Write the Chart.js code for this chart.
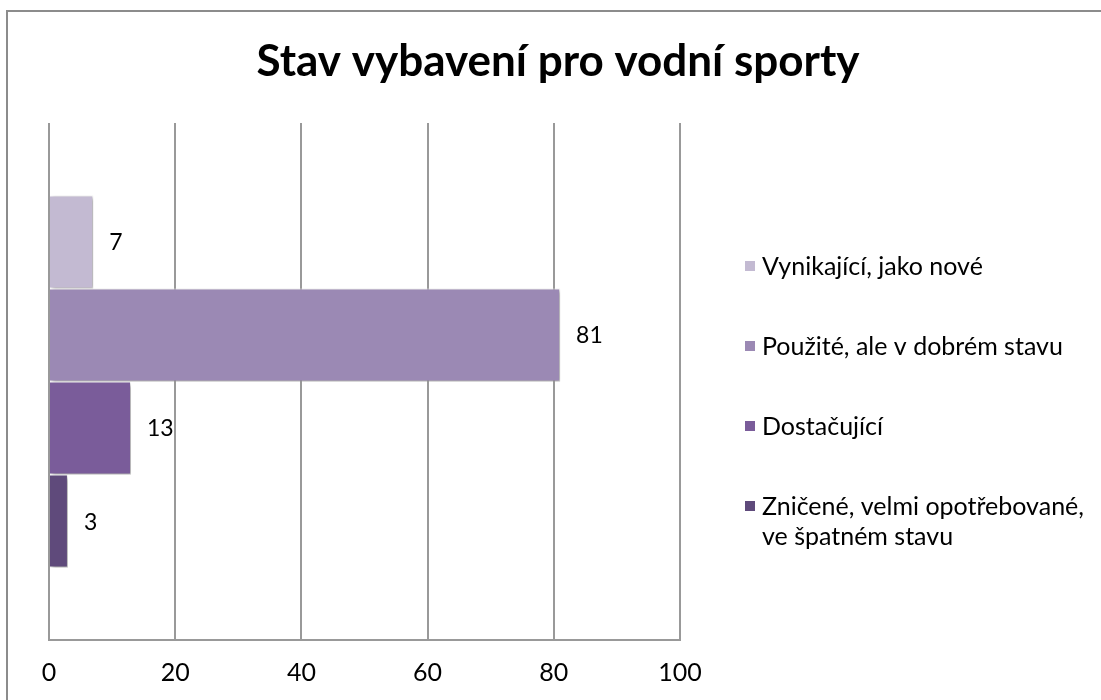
<!DOCTYPE html>
<html>
<head>
<meta charset="utf-8">
<script src="https://cdn.jsdelivr.net/npm/chart.js@4/dist/chart.umd.min.js"></script>
<style>
html,body{margin:0;padding:0;background:#fff;}
#wrap{position:relative;width:1101px;height:700px;}
</style>
</head>
<body>
<div id="wrap"><canvas id="c" width="1101" height="700"></canvas></div>
<script>
const chartTitle = 'Stav vybavení pro vodní sporty';
const categories = [''];
const seriesNames = [
  'Vynikající, jako nové',
  'Použité, ale v dobrém stavu',
  'Dostačující',
  'Zničené, velmi opotřebované, ve špatném stavu'
];
const seriesValues = [7, 81, 13, 3];
const seriesColors = ['#C3BAD2', '#9B89B4', '#7A5C9A', '#5F4A7B'];
const xTicks = [0, 20, 40, 60, 80, 100];

const FONT = 'Lato, "Open Sans", sans-serif';

const frame = {
  id: 'frame',
  beforeDraw(chart) {
    const ctx = chart.ctx;
    ctx.save();
    ctx.fillStyle = '#fff';
    ctx.fillRect(0, 0, chart.width, chart.height);
    ctx.strokeStyle = '#8c8c8c';
    ctx.lineWidth = 2;
    ctx.beginPath();
    ctx.moveTo(7, chart.height + 5);
    ctx.lineTo(7, 11);
    ctx.lineTo(chart.width + 5, 11);
    ctx.stroke();
    ctx.fillStyle = '#000';
    ctx.font = 'bold 44px ' + FONT;
    ctx.textAlign = 'center';
    ctx.textBaseline = 'alphabetic';
    ctx.fillText(chartTitle, 558, 76);
    ctx.restore();
  }
};

const shadow = {
  id: 'shadow',
  beforeDatasetsDraw(chart) {
    const ctx = chart.ctx;
    ctx.save();
    ctx.shadowColor = 'rgba(0,0,0,0.35)';
    ctx.shadowBlur = 4;
    ctx.shadowOffsetX = 2;
    ctx.shadowOffsetY = 2;
  },
  afterDatasetsDraw(chart) {
    chart.ctx.restore();
  }
};

const valueLabels = {
  id: 'valueLabels',
  afterDatasetsDraw(chart) {
    const ctx = chart.ctx;
    ctx.save();
    ctx.font = '23px ' + FONT;
    ctx.fillStyle = '#000';
    ctx.textBaseline = 'middle';
    ctx.textAlign = 'left';
    chart.data.datasets.forEach((ds, i) => {
      const meta = chart.getDatasetMeta(i);
      meta.data.forEach((el, j) => {
        ctx.fillText(String(ds.data[j]), el.x + 16, el.y + 1);
      });
    });
    ctx.restore();
  }
};

const sideLegend = {
  id: 'sideLegend',
  afterDraw(chart) {
    const ctx = chart.ctx;
    ctx.save();
    ctx.font = '25px ' + FONT;
    ctx.textBaseline = 'alphabetic';
    ctx.textAlign = 'left';
    const boxX = 745, textX = 762, maxW = 345, lineH = 30, gap = 50;
    let base = 275;
    chart.data.datasets.forEach((ds) => {
      const words = ds.label.split(' ');
      const lines = [];
      let cur = '';
      words.forEach(w => {
        const t = cur ? cur + ' ' + w : w;
        if (ctx.measureText(t).width > maxW && cur) { lines.push(cur); cur = w; }
        else cur = t;
      });
      if (cur) lines.push(cur);
      ctx.fillStyle = ds.backgroundColor;
      ctx.fillRect(boxX, base - 14, 10, 10);
      ctx.fillStyle = '#000';
      lines.forEach((ln, k) => ctx.fillText(ln, textX, base + k * lineH));
      base += lines.length * lineH + gap;
    });
    ctx.restore();
  }
};

new Chart(document.getElementById('c'), {
  type: 'bar',
  data: {
    labels: categories,
    datasets: seriesNames.map((n, i) => ({
      label: n,
      data: [seriesValues[i]],
      backgroundColor: seriesColors[i],
      borderColor: '#ffffff',
      borderWidth: 1,
      barPercentage: 1,
      categoryPercentage: 0.72
    }))
  },
  options: {
    indexAxis: 'y',
    responsive: false,
    animation: false,
    devicePixelRatio: 1,
    layout: { padding: { left: 49, right: 421, top: 123, bottom: 14 } },
    plugins: {
      legend: { display: false },
      tooltip: { enabled: false },
      title: { display: false }
    },
    scales: {
      x: {
        min: 0, max: 100,
        afterBuildTicks(axis) { axis.ticks = xTicks.map(v => ({ value: v })); },
        afterFit(axis) { axis.height = 46; },
        grid: { color: '#999', lineWidth: 2, drawTicks: false },
        border: { color: '#999', width: 2 },
        ticks: { color: '#000', padding: 18, maxRotation: 0, font: { family: FONT, size: 25 } }
      },
      y: {
        display: false,
        grid: { display: false }
      }
    }
  },
  plugins: [frame, shadow, valueLabels, sideLegend]
});
</script>
</body>
</html>
